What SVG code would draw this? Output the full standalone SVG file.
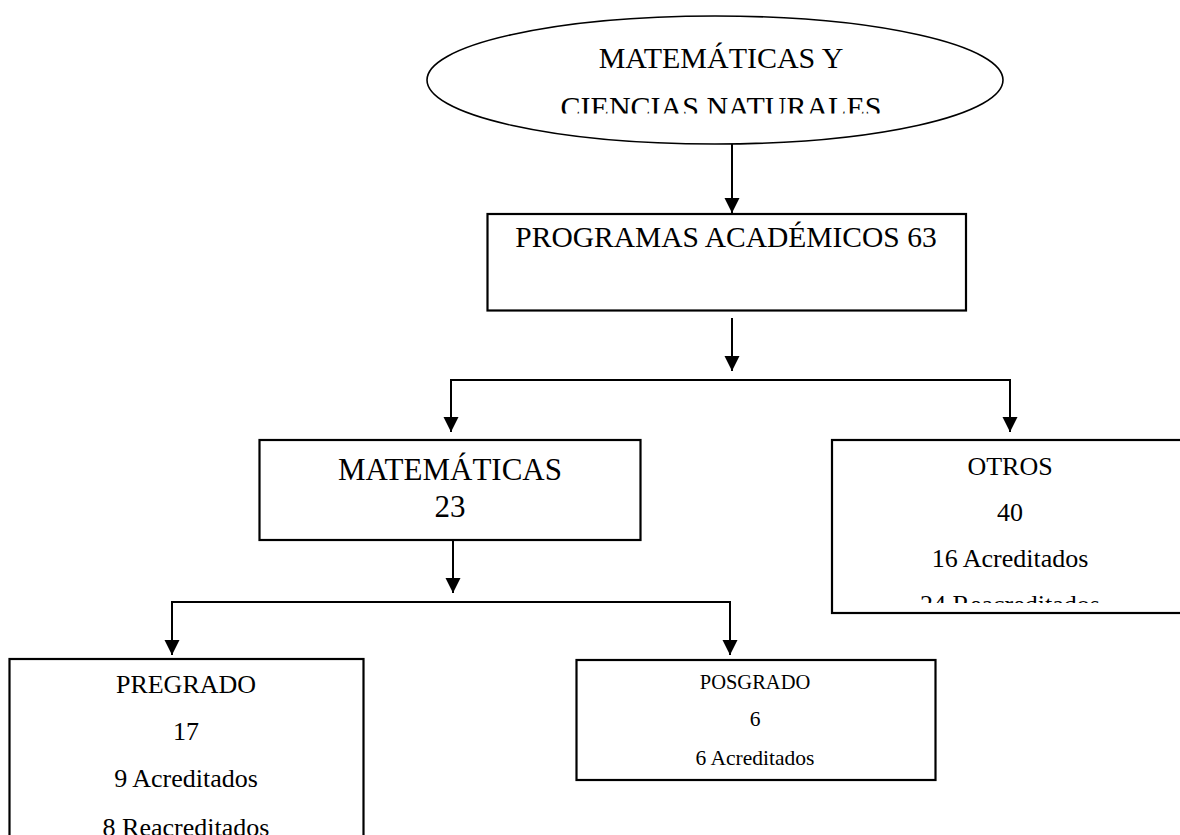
<svg xmlns="http://www.w3.org/2000/svg" width="1180" height="835" viewBox="0 0 1180 835">
<defs>
<style>
.box{fill:#fff;stroke:#000;stroke-width:2.2}
.conn{fill:none;stroke:#000;stroke-width:2}
text{font-family:"Liberation Serif","Times New Roman",serif;fill:#000;text-anchor:middle}
</style>
<marker id="ah" markerUnits="userSpaceOnUse" markerWidth="16" markerHeight="16" viewBox="0 0 16 16" refX="15" refY="7.5" orient="auto"><path d="M0,0 L15,7.5 L0,15 Z" fill="#000"/></marker>
<clipPath id="clipE"><rect x="400" y="0" width="700" height="113.5"/></clipPath>
<clipPath id="clipO"><rect x="832" y="440" width="360" height="163"/></clipPath>
</defs>
<rect width="1180" height="835" fill="#fff"/>
<g id="n-ciencias">
<ellipse cx="715" cy="80" rx="288" ry="64" fill="#fff" stroke="#000" stroke-width="1.6"/>
<g clip-path="url(#clipE)">
<text x="721" y="68" font-size="30">MATEMÁTICAS Y</text>
<text x="721" y="116.5" font-size="30">CIENCIAS NATURALES</text>
</g>
</g>
<g id="connectors">
<path class="conn" d="M732,144 V213" marker-end="url(#ah)"/>
<path class="conn" d="M732,318 V371" marker-end="url(#ah)"/>
<path class="conn" d="M731,380 H451 V432" marker-end="url(#ah)"/>
<path class="conn" d="M731,380 H1010 V432" marker-end="url(#ah)"/>
<path class="conn" d="M453,540 V593" marker-end="url(#ah)"/>
<path class="conn" d="M453,602 H172 V655" marker-end="url(#ah)"/>
<path class="conn" d="M453,602 H730 V655" marker-end="url(#ah)"/>
</g>
<g id="n-programas">
<rect class="box" x="487.5" y="214" width="478.5" height="96.5"/>
<text x="726" y="247" font-size="29.5">PROGRAMAS ACADÉMICOS 63</text>
</g>
<g id="n-matematicas">
<rect class="box" x="259.5" y="440" width="381" height="100"/>
<text x="450" y="480" font-size="31">MATEMÁTICAS</text>
<text x="450" y="517" font-size="31">23</text>
</g>
<g id="n-otros">
<rect class="box" x="832" y="440" width="360" height="173"/>
<g clip-path="url(#clipO)">
<text x="1010" y="475" font-size="26">OTROS</text>
<text x="1010" y="521" font-size="26">40</text>
<text x="1010" y="567" font-size="26">16 Acreditados</text>
<text x="1010" y="613" font-size="26">24 Reacreditados</text>
</g>
</g>
<g id="n-pregrado">
<rect class="box" x="9.5" y="659" width="354" height="200"/>
<text x="186" y="693" font-size="26">PREGRADO</text>
<text x="186" y="740" font-size="26">17</text>
<text x="186" y="787" font-size="26">9 Acreditados</text>
<text x="186" y="836" font-size="26">8 Reacreditados</text>
</g>
<g id="n-posgrado">
<rect class="box" x="576.5" y="660" width="359" height="120"/>
<text x="755" y="689" font-size="20.5">POSGRADO</text>
<text x="755" y="726" font-size="21.5">6</text>
<text x="755" y="765" font-size="21.5">6 Acreditados</text>
</g>
</svg>
